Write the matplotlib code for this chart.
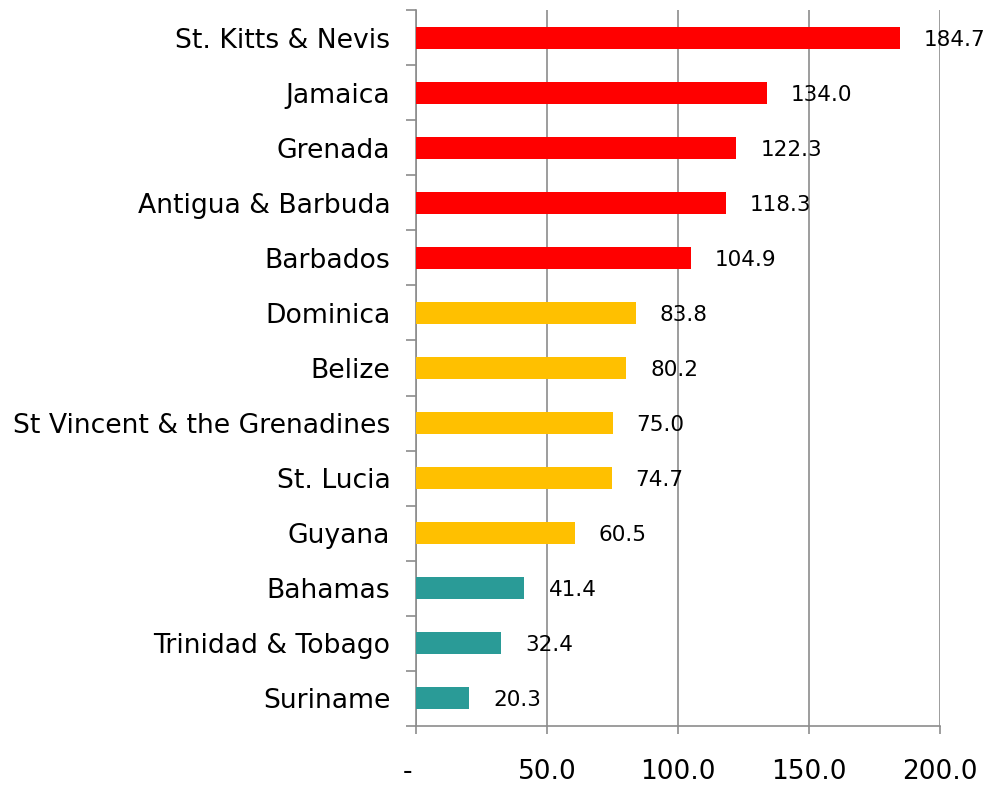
import matplotlib
matplotlib.use("Agg")
import matplotlib.pyplot as plt
import numpy as np

categories = ["St. Kitts & Nevis", "Jamaica", "Grenada", "Antigua & Barbuda", "Barbados",
              "Dominica", "Belize", "St Vincent & the Grenadines", "St. Lucia", "Guyana",
              "Bahamas", "Trinidad & Tobago", "Suriname"]
values = [184.7, 134.0, 122.3, 118.3, 104.9, 83.8, 80.2, 75.0, 74.7, 60.5, 41.4, 32.4, 20.3]
groups = ["high"] * 5 + ["mid"] * 5 + ["low"] * 3
group_colors = {"high": "#FF0000", "mid": "#FFC000", "low": "#2A9B97"}
xticks = [0, 50, 100, 150, 200]
xticklabels = ["-  ", "50.0", "100.0", "150.0", "200.0"]

fig = plt.figure(figsize=(9.9, 7.88), dpi=100)
ax = fig.add_axes([0.4202, 0.0787, 0.5293, 0.9086])

y = np.arange(len(categories))
colors = [group_colors[g] for g in groups]
ax.barh(y, values, height=0.4, color=colors, zorder=3)

for yi, v in zip(y, values):
    ax.annotate(f"{v:.1f}", xy=(v, yi), xytext=(24, -2), textcoords="offset pixels",
                va="center", ha="left", fontsize=15.5, color="black", zorder=4)

ax.set_xlim(0, 200)
ax.set_ylim(len(categories) - 0.5, -0.5)
ax.set_yticks(y)
ax.set_yticklabels(categories, fontsize=19.2)
ax.set_yticks(np.arange(-0.5, len(categories), 1.0), minor=True)
ax.tick_params(axis="y", which="major", length=0, pad=18.5)
ax.tick_params(axis="y", which="minor", length=7, width=1.2, color="#8c8c8c")
ax.set_xticks(xticks)
ax.set_xticklabels(xticklabels, fontsize=19)
ax.tick_params(axis="x", which="major", length=6, width=1.2, color="#8c8c8c", pad=18)

ax.grid(axis="x", color="#8c8c8c", linewidth=1.2, zorder=0)
for s in ["top", "right"]:
    ax.spines[s].set_visible(False)
for s in ["left", "bottom"]:
    ax.spines[s].set_color("#8c8c8c")
    ax.spines[s].set_linewidth(1.2)

fig.savefig("out.png", dpi=100)
